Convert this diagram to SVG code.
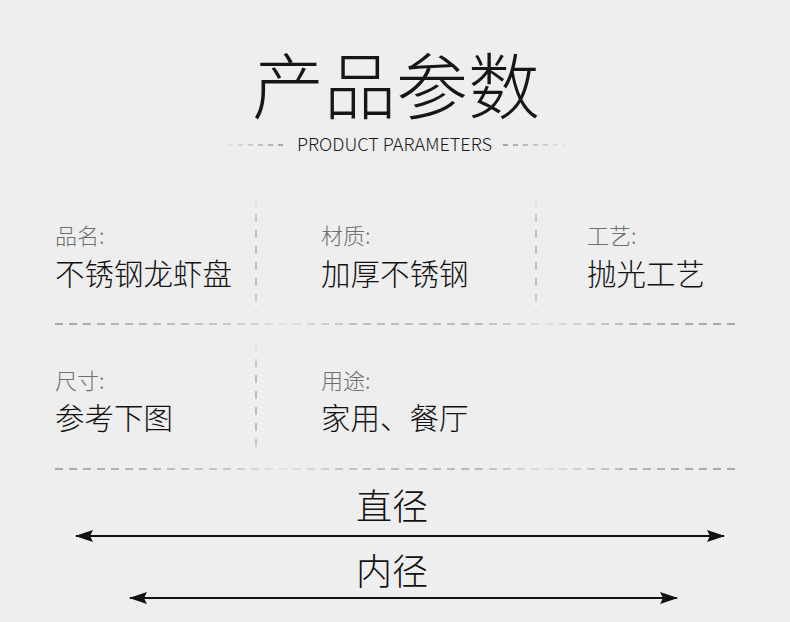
<svg xmlns="http://www.w3.org/2000/svg" width="790" height="622" viewBox="0 0 790 622">
<defs>
<style>
text{font-family:"Noto Sans CJK SC","Noto Sans",sans-serif;}
.title{font-size:72px;font-weight:300;fill:#161616;}
.sub{font-size:18px;font-weight:300;fill:#1a1a1a;}
.lbl{font-size:22px;font-weight:300;fill:#6e6e6e;}
.val{font-size:29.5px;font-weight:300;fill:#111;}
.dim{font-size:36px;font-weight:300;fill:#111;}
.hd{stroke:url(#hg);stroke-width:2;stroke-dasharray:8 6;fill:none;}
.vd{stroke:url(#vg);stroke-width:1.5;stroke-dasharray:8 8;fill:none;}
.vd2{stroke:url(#vg2);stroke-width:1.5;stroke-dasharray:8 8;fill:none;}
.sd{stroke-width:1.3;stroke-dasharray:5 5;fill:none;}
.arr{stroke:#111;stroke-width:2;fill:none;marker-start:url(#ah);marker-end:url(#ah);}
</style>
<linearGradient id="hg" gradientUnits="userSpaceOnUse" x1="55" y1="0" x2="735" y2="0">
<stop offset="0" stop-color="#a8a8a8" stop-opacity="1"/>
<stop offset="0.25" stop-color="#a8a8a8" stop-opacity="0.55"/>
<stop offset="0.34" stop-color="#a8a8a8" stop-opacity="0.15"/>
<stop offset="0.44" stop-color="#a8a8a8" stop-opacity="0.65"/>
<stop offset="0.62" stop-color="#a8a8a8" stop-opacity="0.75"/>
<stop offset="0.72" stop-color="#a8a8a8" stop-opacity="0.2"/>
<stop offset="0.86" stop-color="#a8a8a8" stop-opacity="0.85"/>
<stop offset="1" stop-color="#a8a8a8" stop-opacity="1"/>
</linearGradient>
<linearGradient id="vg" gradientUnits="userSpaceOnUse" x1="0" y1="195" x2="0" y2="315">
<stop offset="0" stop-color="#b0b0b0" stop-opacity="0"/>
<stop offset="0.25" stop-color="#b0b0b0" stop-opacity="1"/>
<stop offset="0.8" stop-color="#b0b0b0" stop-opacity="1"/>
<stop offset="1" stop-color="#b0b0b0" stop-opacity="0.2"/>
</linearGradient>
<linearGradient id="vg2" gradientUnits="userSpaceOnUse" x1="0" y1="340" x2="0" y2="460">
<stop offset="0" stop-color="#b0b0b0" stop-opacity="0"/>
<stop offset="0.25" stop-color="#b0b0b0" stop-opacity="1"/>
<stop offset="0.8" stop-color="#b0b0b0" stop-opacity="1"/>
<stop offset="1" stop-color="#b0b0b0" stop-opacity="0.2"/>
</linearGradient>
<linearGradient id="sgl" gradientUnits="userSpaceOnUse" x1="226" y1="0" x2="288" y2="0">
<stop offset="0" stop-color="#888" stop-opacity="0.1"/>
<stop offset="1" stop-color="#888" stop-opacity="1"/>
</linearGradient>
<linearGradient id="sgr" gradientUnits="userSpaceOnUse" x1="502" y1="0" x2="566" y2="0">
<stop offset="0" stop-color="#888" stop-opacity="1"/>
<stop offset="1" stop-color="#888" stop-opacity="0.1"/>
</linearGradient>
<marker id="ah" viewBox="0 0 18 12" refX="17" refY="6" markerWidth="18" markerHeight="12" markerUnits="userSpaceOnUse" orient="auto-start-reverse">
<path d="M0,0 L18,6 L0,12 L3,6 Z" fill="#111"/>
</marker>
</defs>
<rect width="790" height="622" fill="#eeeeee"/>

<g id="header">
<text class="title" x="396" y="113" text-anchor="middle">产品参数</text>
<line class="sd" x1="228" y1="145" x2="288" y2="145" stroke="url(#sgl)"/>
<text class="sub" x="297" y="151" textLength="195" lengthAdjust="spacingAndGlyphs">PRODUCT PARAMETERS</text>
<line class="sd" x1="503" y1="145" x2="566" y2="145" stroke="url(#sgr)"/>
</g>

<g id="grid">
<line class="vd" x1="256" y1="198" x2="256" y2="313"/>
<line class="vd" x1="536" y1="198" x2="536" y2="313"/>
<line class="vd2" x1="256" y1="343" x2="256" y2="458"/>
<line class="hd" x1="55" y1="324" x2="735" y2="324"/>
<line class="hd" x1="55" y1="469" x2="735" y2="469"/>
</g>

<g id="cell-name">
<text class="lbl" x="55" y="244">品名:</text>
<text class="val" x="55" y="285">不锈钢龙虾盘</text>
</g>
<g id="cell-material">
<text class="lbl" x="321" y="244">材质:</text>
<text class="val" x="321" y="285">加厚不锈钢</text>
</g>
<g id="cell-craft">
<text class="lbl" x="587" y="244">工艺:</text>
<text class="val" x="587" y="285">抛光工艺</text>
</g>
<g id="cell-size">
<text class="lbl" x="55" y="389">尺寸:</text>
<text class="val" x="55" y="429">参考下图</text>
</g>
<g id="cell-use">
<text class="lbl" x="321" y="389">用途:</text>
<text class="val" x="321" y="429">家用、餐厅</text>
</g>

<g id="label-diameter">
<text class="dim" x="392" y="520" text-anchor="middle">直径</text>
</g>
<g id="label-inner">
<text class="dim" x="392" y="585" text-anchor="middle">内径</text>
</g>

<g id="connectors">
<line class="arr" x1="76" y1="536" x2="724" y2="536"/>
<line class="arr" x1="130" y1="598" x2="677" y2="598"/>
</g>
</svg>
